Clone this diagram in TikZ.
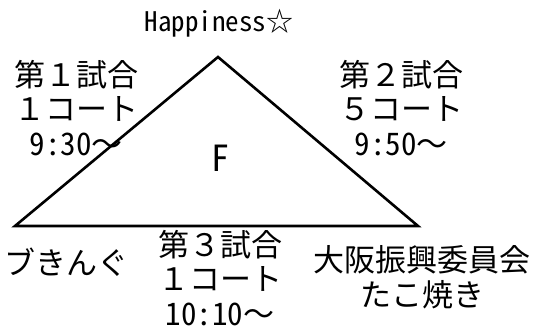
\documentclass[tikz,border=0pt]{standalone}
\usepackage{fontspec}
\setmainfont{Noto Sans CJK JP}
\newfontfamily\halfw[RawFeature=+hwid]{Noto Sans CJK JP}
\usetikzlibrary{positioning}
\tikzset{
 lbl/.style={align=center,inner sep=0pt,font=\fontsize{31}{34.5}\selectfont},
 small/.style={inner sep=0pt,font=\fontsize{27}{29}\selectfont}
}
\begin{document}
\begin{tikzpicture}[x=1pt,y=-1pt,line cap=round,line join=miter]
 \useasboundingbox (0,0) rectangle (549,329);
 \coordinate (A) at (218,57);
 \coordinate (L) at (15,226);
 \coordinate (R) at (418,226);
 \draw[line width=2.6pt] (L)--(A)--(R)--cycle;
 \node[small] (happy) at (219,23) {{\halfw Happiness}☆};
 \node[lbl] (game1) at (76,108) {第１試合\\１コート\\{\halfw 9:30}～};
 \node[lbl] (game2) at (401,108) {第２試合\\５コート\\{\halfw 9:50}～};
 \node[inner sep=0pt,font=\fontsize{36}{40}\halfw] (team) at (220,158) {F};
 \node[lbl] (left) at (67,262) {ブきんぐ};
 \node[lbl] (game3) at (220,278) {第３試合\\１コート\\{\halfw 10:10}～};
 \node[lbl] (right) at (422,277) {大阪振興委員会\\たこ焼き};
\end{tikzpicture}
\end{document}
